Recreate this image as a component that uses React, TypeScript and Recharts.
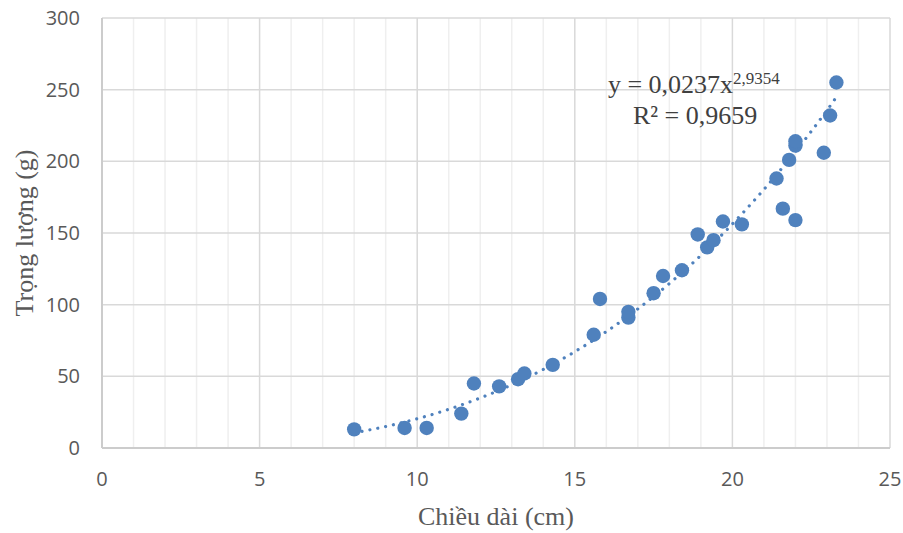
import React from "react";
import {
  ComposedChart,
  Scatter,
  Line,
  XAxis,
  YAxis,
  CartesianGrid,
  ReferenceDot,
  Label,
} from "recharts";

// Chiều dài (cm)
const lengths = [
  8.0, 9.6, 10.3, 11.4, 11.8, 12.6, 13.2, 13.4, 14.3, 15.6, 15.8, 16.7, 16.7,
  17.5, 17.8, 18.4, 18.9, 19.2, 19.4, 19.7, 20.3, 21.4, 21.6, 21.8, 22.0, 22.0,
  22.0, 22.9, 23.1, 23.3,
];
// Trọng lượng (g)
const weights = [
  13, 14, 14, 24, 45, 43, 48, 52, 58, 79, 104, 91, 95, 108, 120, 124, 149, 140,
  145, 158, 156, 188, 167, 201, 211, 214, 159, 206, 232, 255,
];

// Trend line (power)
const trendX = [8, 9, 10, 11, 12, 13, 14, 15, 16, 17, 18, 19, 20, 21, 22, 23, 23.3];
const trendY = [
  10.6, 15.0, 20.4, 27.0, 34.9, 44.1, 54.8, 67.2, 81.2, 97.0, 114.7, 134.4,
  156.3, 180.4, 206.8, 235.6, 244.8,
];

const xTicks = [0, 5, 10, 15, 20, 25];
const xMinor = [1, 2, 3, 4, 6, 7, 8, 9, 11, 12, 13, 14, 16, 17, 18, 19, 21, 22, 23, 24];
const yTicks = [0, 50, 100, 150, 200, 250, 300];

const equationText = "y = 0,0237x";
const equationExp = "2,9354";
const r2Text = "R² = 0,9659";
const xTitle = "Chiều dài (cm)";
const yTitle = "Trọng lượng (g)";

const points = lengths.map((x, i) => ({ x, y: weights[i] }));
const trend = trendX.map((x, i) => ({ x, y: trendY[i] }));

const BLUE = "#4f81bd";
const SERIF = "'Liberation Serif', 'Times New Roman', serif";
const SANS = "'Open Sans', 'Noto Sans', sans-serif";

const Marker = (props: any) => {
  const { cx, cy } = props;
  if (cx == null || cy == null) return null;
  return <circle cx={cx} cy={cy} r={7.2} fill={BLUE} />;
};

const EquationLabel = (props: any) => {
  const vb = props.viewBox || {};
  const x = (vb.x ?? 0) + (vb.width ?? 0) / 2;
  const y = (vb.y ?? 0) + (vb.height ?? 0) / 2;
  return (
    <g>
      <text x={x} y={y} fontFamily={SERIF} fontSize={26} fill="#404040">
        <tspan>{equationText}</tspan>
        <tspan fontSize={17} dy={-9}>
          {equationExp}
        </tspan>
      </text>
      <text x={x + 25} y={y + 30.5} fontFamily={SERIF} fontSize={26} fill="#404040">
        {r2Text}
      </text>
    </g>
  );
};

export default function App() {
  return (
    <div style={{ position: "absolute", left: 0, top: 0, width: 903, height: 533, background: "#fff" }}>
      <ComposedChart
        width={903}
        height={533}
        margin={{ top: 18, right: 13, bottom: 0, left: 0 }}
      >
        <CartesianGrid
          horizontal={false}
          verticalValues={xMinor}
          stroke="#efefef"
          strokeWidth={1.5}
        />
        <CartesianGrid stroke="#d9d9d9" strokeWidth={1.5} />
        <XAxis
          type="number"
          dataKey="x"
          domain={[0, 25]}
          ticks={xTicks}
          interval={0}
          allowDataOverflow
          height={85}
          tickLine={false}
          tickSize={0}
          tickMargin={24}
          axisLine={{ stroke: "#cccccc", strokeWidth: 2 }}
          tick={{ fill: "#595959", fontSize: 20, fontFamily: SANS }}
        >
          <Label
            value={xTitle}
            position="insideBottom"
            offset={8}
            style={{ fill: "#595959", fontSize: 26, fontFamily: SERIF }}
          />
        </XAxis>
        <YAxis
          type="number"
          dataKey="y"
          domain={[0, 300]}
          ticks={yTicks}
          interval={0}
          allowDataOverflow
          width={102}
          tickLine={false}
          tickSize={0}
          tickMargin={22}
          axisLine={{ stroke: "#cccccc", strokeWidth: 2 }}
          tick={{ fill: "#595959", fontSize: 20, fontFamily: SANS }}
        >
          <Label
            value={yTitle}
            angle={-90}
            position="insideLeft"
            offset={24}
            style={{ fill: "#595959", fontSize: 26, fontFamily: SERIF, textAnchor: "middle" }}
          />
        </YAxis>
        <Line
          data={trend}
          dataKey="y"
          type="monotone"
          stroke={BLUE}
          strokeWidth={3.2}
          strokeLinecap="round"
          strokeDasharray="0.01 8"
          dot={false}
          activeDot={false}
          isAnimationActive={false}
        />
        <Scatter
          data={points}
          dataKey="y"
          fill={BLUE}
          shape={Marker}
          isAnimationActive={false}
        />
        <ReferenceDot
          x={16.05}
          y={247.5}
          r={0.5}
          fill="none"
          stroke="none"
          label={<EquationLabel />}
        />
      </ComposedChart>
    </div>
  );
}
